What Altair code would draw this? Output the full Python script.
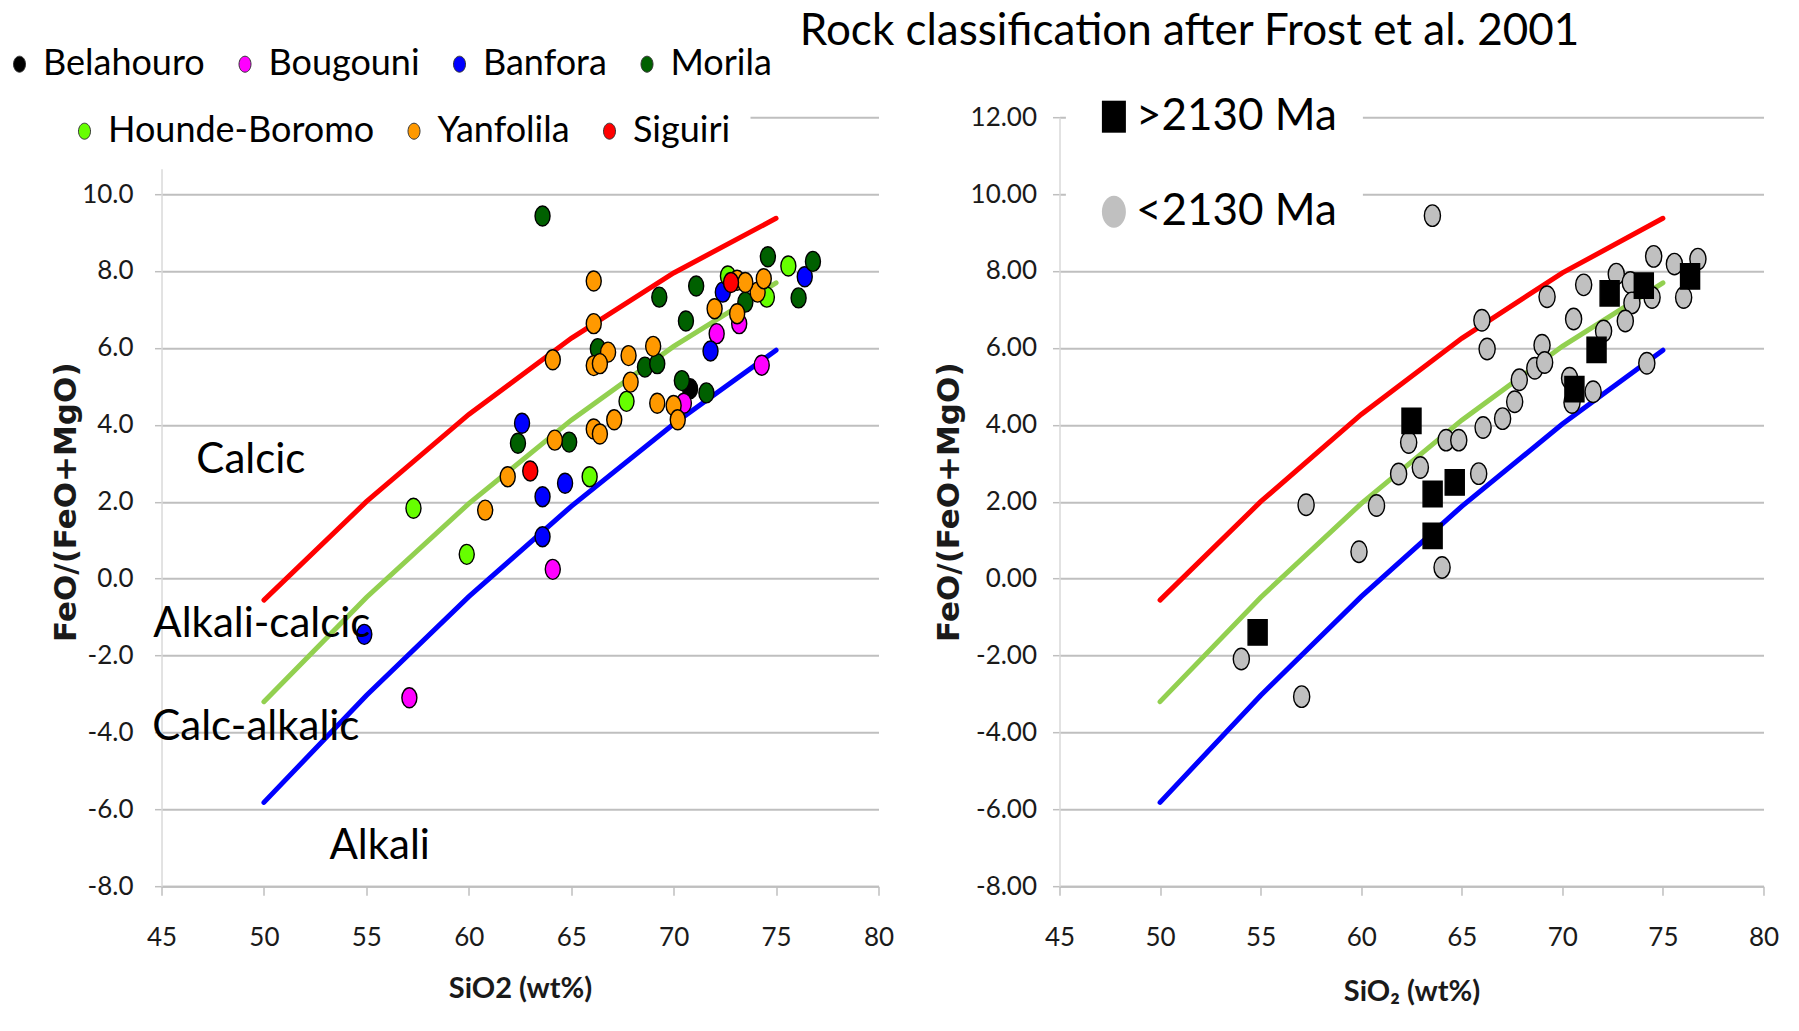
import altair as alt
import pandas as pd

# ---------------- data ----------------
# Frost et al. (2001) MALI boundaries
boundary_x = [50, 55, 60, 65, 70, 75]
calcic_y = [-0.56, 2.00, 4.27, 6.25, 7.95, 9.37]
alkali_calcic_y = [-3.20, -0.49, 1.95, 4.12, 6.04, 7.69]
alkalic_y = [-5.82, -3.04, -0.47, 1.88, 4.02, 5.94]
boundary_names = ["Calcic / Alkali-calcic", "Alkali-calcic / Calc-alkalic", "Calc-alkalic / Alkali"]
boundary_colors = ["#ff0000", "#92d050", "#0000ff"]

groups_row1 = ["Belahouro", "Bougouni", "Banfora", "Morila"]
groups_row2 = ["Hounde-Boromo", "Yanfolila", "Siguiri"]
colors_row1 = ["#000000", "#ff00ff", "#0000ff", "#006000"]
colors_row2 = ["#66ff00", "#ff9900", "#ff0000"]

belahouro_x = [70.8]
belahouro_y = [4.94]
bougouni_x = [57.1, 64.1, 70.5, 72.1, 73.2, 74.3]
bougouni_y = [-3.10, 0.24, 4.56, 6.37, 6.63, 5.55]
banfora_x = [54.9, 62.6, 63.6, 64.7, 63.6, 71.8, 72.4, 76.4]
banfora_y = [-1.45, 4.04, 2.13, 2.48, 1.09, 5.92, 7.45, 7.85]
morila_x = [63.6, 74.6, 76.8, 71.1, 69.3, 76.1, 73.5, 70.6, 66.3, 68.6, 69.2, 70.4, 71.6, 62.4, 64.9]
morila_y = [9.43, 8.37, 8.25, 7.61, 7.32, 7.30, 7.19, 6.70, 5.98, 5.50, 5.59, 5.15, 4.83, 3.52, 3.55]
hounde_x = [57.3, 59.9, 65.9, 67.7, 75.6, 74.55, 72.65]
hounde_y = [1.83, 0.63, 2.65, 4.61, 8.13, 7.32, 7.87]
yanfolila_x = [66.1, 66.1, 64.1, 66.8, 66.1, 66.4, 67.8, 69.0, 67.9, 69.2, 70.0, 70.2,
               67.1, 66.1, 66.4, 64.2, 61.9, 60.8, 72.0, 73.1, 74.1, 74.4, 73.1, 73.5]
yanfolila_y = [7.74, 6.63, 5.69, 5.89, 5.54, 5.59, 5.80, 6.04, 5.11, 4.56, 4.50, 4.13,
               4.13, 3.89, 3.76, 3.60, 2.65, 1.78, 7.02, 6.89, 7.45, 7.80, 7.76, 7.70]
siguiri_x = [63.0, 72.8]
siguiri_y = [2.80, 7.70]

age_classes = [">2130 Ma", "<2130 Ma"]
old_x = [54.85, 62.5, 63.55, 64.65, 63.55, 70.6, 71.7, 72.35, 74.05, 76.35]
old_y = [-1.40, 4.10, 2.20, 2.50, 1.11, 4.93, 5.95, 7.42, 7.62, 7.86]
young_x = [63.54, 74.54, 75.57, 76.74, 76.03, 71.06, 69.24, 70.56, 72.68, 73.38, 74.46, 73.46, 73.13,
           72.05, 68.99, 74.20, 66.00, 66.26, 62.36, 64.22, 64.85, 66.06, 67.03, 67.63, 67.86, 68.63,
           69.12, 70.36, 70.48, 71.53, 61.86, 62.94, 65.84, 60.76, 57.26, 59.89, 64.02, 54.04, 57.04]
young_y = [9.44, 8.38, 8.18, 8.31, 7.31, 7.64, 7.33, 6.75, 7.92, 7.70, 7.31, 7.17, 6.70,
           6.44, 6.07, 5.60, 6.72, 5.97, 3.54, 3.60, 3.60, 3.93, 4.16, 4.60, 5.17, 5.47,
           5.62, 5.21, 4.58, 4.86, 2.72, 2.89, 2.73, 1.90, 1.92, 0.70, 0.29, -2.09, -3.07]

region_labels = ["Calcic", "Alkali-calcic", "Calc-alkalic", "Alkali"]
region_label_x = [46.7, 44.6, 44.55, 53.2]
region_label_y = [3.09, -1.18, -3.87, -6.95]

x_ticks = [45, 50, 55, 60, 65, 70, 75, 80]
y_ticks = [-8, -6, -4, -2, 0, 2, 4, 6, 8, 10, 12]

# ---------------- tables ----------------
lines_df = pd.DataFrame({
    "SiO2": boundary_x * 3,
    "MALI": calcic_y + alkali_calcic_y + alkalic_y,
    "boundary": [n for n in boundary_names for _ in boundary_x],
})


def group_table(names, xs, ys):
    rows = []
    for n, xv, yv in zip(names, xs, ys):
        for a, b in zip(xv, yv):
            rows.append({"SiO2": a, "MALI": b, "group": n})
    return pd.DataFrame(rows)


row1_df = group_table(groups_row1, [belahouro_x, bougouni_x, banfora_x, morila_x],
                      [belahouro_y, bougouni_y, banfora_y, morila_y])
row2_df = group_table(groups_row2, [hounde_x, yanfolila_x, siguiri_x],
                      [hounde_y, yanfolila_y, siguiri_y])
age_df = pd.DataFrame({
    "SiO2": young_x + old_x,
    "MALI": young_y + old_y,
    "age": ["<2130 Ma"] * len(young_x) + [">2130 Ma"] * len(old_x),
})
labels_df = pd.DataFrame({"SiO2": region_label_x, "MALI": region_label_y, "label": region_labels})

# ---------------- style ----------------
FONT = "Lato"
BOLDY = "DejaVu Sans"
GRID = "#bfbfbf"
ELLIPSE = "M-0.75,0A0.75,1,0,1,1,0.75,0A0.75,1,0,1,1,-0.75,0Z"
RECT = "M-0.75,-1L0.75,-1L0.75,1L-0.75,1Z"

W_L, W_R, H = 717, 704, 769
GAP = 181
RIGHT_OFFSET = W_L + GAP  # legends of the concat are placed from the left panel's origin


def x_axis(title, tx, ty):
    return alt.Axis(values=x_ticks, title=title, grid=False, domainColor=GRID, domainWidth=2,
                    tickColor=GRID, tickSize=9, tickWidth=1.5, labelFont=FONT, labelFontSize=26,
                    labelColor="#1a1a1a", labelPadding=29, labelFlush=False, labelOverlap=False,
                    titleFont=FONT, titleFontWeight="bold", titleFontSize=29, titleColor="#1a1a1a",
                    titleX=tx, titleY=ty, titleAlign="center", titleBaseline="middle")


def y_axis(fmt, tx, ty, pad, hide_top):
    expr = ("datum.value < 0 ? '-' + format(-datum.value, '%s') : format(datum.value, '%s')" % (fmt, fmt))
    if hide_top:
        # the top label sits under the legend box in the original
        expr = "datum.value >= 12 ? '' : (" + expr + ")"
    return alt.Axis(values=y_ticks, title="FeO/(FeO+MgO)", grid=True, gridColor=GRID, gridWidth=2,
                    domainColor="#d9d9d9", domainWidth=1.5, tickColor=GRID, tickSize=7, tickWidth=1.5,
                    labelExpr=expr, labelFont=FONT, labelFontSize=26, labelColor="#1a1a1a",
                    labelPadding=pad, labelFlush=False, labelOverlap=False,
                    titleFont=BOLDY, titleFontWeight="bold", titleFontSize=31, titleColor="#1a1a1a",
                    titleAngle=270, titleX=tx, titleY=ty, titleAlign="center", titleBaseline="middle")


xs_left = alt.Scale(domain=[45, 80], nice=False, zero=False)
ys = alt.Scale(domain=[-8, 12], nice=False, zero=False)


def boundary_layer(xaxis, yaxis):
    return alt.Chart(lines_df).mark_line(strokeWidth=5, strokeCap="round").encode(
        x=alt.X("SiO2:Q", scale=xs_left, axis=xaxis),
        y=alt.Y("MALI:Q", scale=ys, axis=yaxis),
        stroke=alt.Stroke("boundary:N", scale=alt.Scale(domain=boundary_names, range=boundary_colors),
                          legend=None),
        detail="boundary:N",
    )


# ---------------- left panel ----------------
left_lines = boundary_layer(x_axis("SiO2 (wt%)", W_L / 2, 102), y_axis(".1f", -95, H / 2, 21.5, True))


def group_points(df, names, cols, lx, ly, pad, fill_box):
    return alt.Chart(df).mark_point(shape=ELLIPSE, size=400, filled=True, opacity=1,
                                    stroke="#000000", strokeWidth=1.4).encode(
        x=alt.X("SiO2:Q", scale=xs_left),
        y=alt.Y("MALI:Q", scale=ys),
        fill=alt.Fill("group:N", scale=alt.Scale(domain=names, range=cols),
                      legend=alt.Legend(orient="none", legendX=lx, legendY=ly, direction="horizontal",
                                        title=None, symbolType=ELLIPSE, symbolSize=256,
                                        symbolStrokeColor="#333333", symbolStrokeWidth=1,
                                        symbolOpacity=1, labelFont=FONT, labelFontSize=36,
                                        labelColor="#000000", labelLimit=500, labelOffset=5.5,
                                        columnPadding=21.5, padding=pad, fillColor=fill_box,
                                        gridAlign="none")),
    )


pts1 = group_points(row1_df, groups_row1, colors_row1, -160, -71, 0, "transparent")
pts2 = group_points(row2_df, groups_row2, colors_row2, -115, -24, 20, "#ffffff")

region_text = alt.Chart(labels_df).mark_text(align="left", baseline="middle", font=FONT,
                                             fontSize=42, color="#000000").encode(
    x=alt.X("SiO2:Q", scale=xs_left),
    y=alt.Y("MALI:Q", scale=ys),
    text="label:N",
)

left = alt.layer(left_lines, pts1, pts2, region_text).resolve_scale(fill="independent").properties(
    width=W_L, height=H)

# ---------------- right panel ----------------
right_lines = boundary_layer(x_axis("SiO₂ (wt%)", W_R / 2, 105), y_axis(".2f", -110, H / 2, 16, False))

age_legend = alt.Legend(orient="none", legendX=RIGHT_OFFSET + 6.4, legendY=-48.5, direction="vertical",
                        title=None, symbolSize=1024, symbolStrokeColor="#000000", symbolStrokeWidth=1.5,
                        symbolOpacity=1, labelFont=FONT, labelFontSize=44, labelColor="#000000",
                        labelLimit=500, labelOffset=0, rowPadding=51, padding=26, fillColor="#ffffff")


def age_points(cls, shape_size):
    return alt.Chart(age_df).transform_filter(alt.datum.age == cls).mark_point(
        size=shape_size, filled=True, opacity=1, stroke="#000000", strokeWidth=1.4).encode(
        x=alt.X("SiO2:Q", scale=xs_left),
        y=alt.Y("MALI:Q", scale=ys),
        fill=alt.Fill("age:N", scale=alt.Scale(domain=age_classes, range=["#000000", "#c0c0c0"]),
                      legend=age_legend),
        shape=alt.Shape("age:N", scale=alt.Scale(domain=age_classes, range=[RECT, ELLIPSE]),
                        legend=age_legend),
    )


right = alt.layer(right_lines, age_points("<2130 Ma", 462), age_points(">2130 Ma", 645)).properties(
    width=W_R, height=H)

chart = alt.hconcat(left, right, spacing=GAP, bounds="flush").properties(
    title=alt.TitleParams("Rock classification after Frost et al. 2001", font=FONT,
                          fontSize=44, fontWeight="normal", color="#000000", anchor="middle",
                          frame="group", baseline="bottom", offset=62, dx=1028, dy=113.7),
    padding={"left": 1.5, "top": 9.2, "right": 5, "bottom": 5},
    autosize=alt.AutoSizeParams(type="pad"),
    background="#ffffff",
).configure_view(stroke=None)

chart.save("out.html", embed_options={"renderer": "svg", "actions": False})
